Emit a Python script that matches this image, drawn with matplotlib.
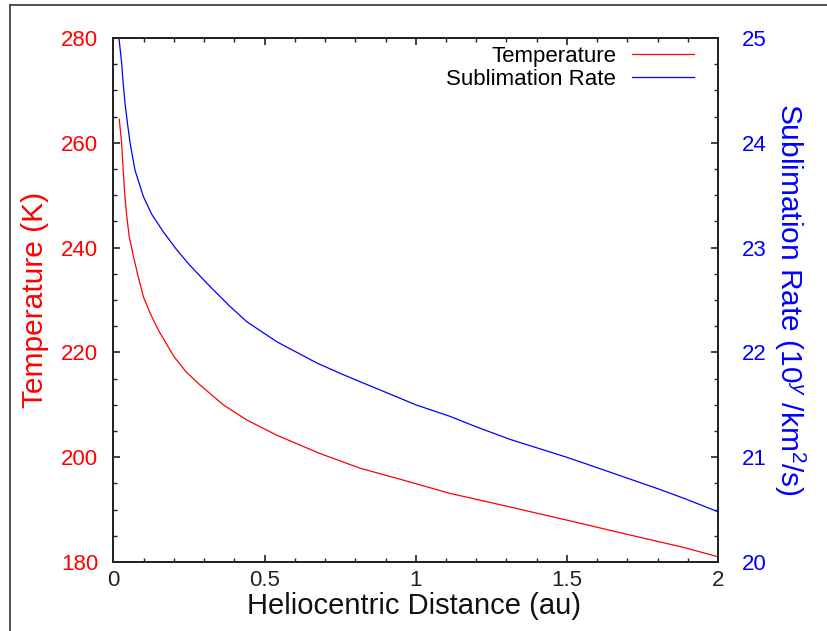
import matplotlib
matplotlib.use("Agg")
import matplotlib.pyplot as plt
from matplotlib.ticker import MultipleLocator
from matplotlib.lines import Line2D

plt.rcParams['font.family'] = ['Liberation Sans', 'DejaVu Sans']
plt.rcParams['mathtext.fontset'] = 'custom'
plt.rcParams['mathtext.rm'] = 'Liberation Sans'
plt.rcParams['mathtext.it'] = 'Liberation Sans:italic'

# Data
r_temp = [0.019, 0.027, 0.032, 0.038, 0.044, 0.052, 0.066, 0.082, 0.099, 0.121,
          0.148, 0.20, 0.24, 0.286, 0.363, 0.441, 0.540, 0.683, 0.816, 0.948,
          1.113, 1.312, 1.499, 1.720, 1.885, 2.0]
temperature = [264.5, 259.9, 254.8, 249.7, 245.9, 242.1, 238.3, 234.4, 230.6, 227.5,
               224.3, 219.2, 216.3, 213.8, 210.0, 207.1, 204.2, 200.7, 197.9, 195.8,
               193.1, 190.5, 188.0, 185.0, 182.8, 181.0]

r_subl = [0.018, 0.027, 0.032, 0.038, 0.046, 0.055, 0.071, 0.099, 0.126, 0.165,
          0.209, 0.253, 0.319, 0.385, 0.441, 0.540, 0.672, 0.75, 0.816, 0.90,
          1.0, 1.113, 1.20, 1.312, 1.40, 1.499, 1.60, 1.720, 1.80, 1.885, 2.0]
sublimation = [25.0, 24.76, 24.57, 24.38, 24.19, 23.995, 23.74, 23.486, 23.32, 23.15,
               22.98, 22.83, 22.63, 22.44, 22.293, 22.102, 21.90, 21.80, 21.72, 21.62,
               21.50, 21.39, 21.29, 21.17, 21.09, 21.00, 20.90, 20.78, 20.70, 20.61, 20.48]

fig = plt.figure(figsize=(8.28, 6.31), dpi=100)
ax = fig.add_axes([113.5/828, 1-562/631, (718-113.5)/828, (562-38)/631])
ax2 = ax.twinx()

ax.plot(r_temp, temperature, color='#ff0000', lw=0.9)
ax2.plot(r_subl, sublimation, color='#0000ff', lw=0.9)

ax.set_xlim(0, 2)
ax.set_ylim(180, 280)
ax2.set_ylim(20, 25)

ax.xaxis.set_major_locator(MultipleLocator(0.5))
ax.xaxis.set_minor_locator(MultipleLocator(0.1))
ax.yaxis.set_major_locator(MultipleLocator(20))
ax.yaxis.set_minor_locator(MultipleLocator(5))
ax2.yaxis.set_major_locator(MultipleLocator(1))
ax2.yaxis.set_minor_locator(MultipleLocator(0.25))
ax.set_xticks([0, 0.5, 1, 1.5, 2])
ax.set_xticklabels(['0', '0.5', '1', '1.5', '2'])

ax.tick_params(axis='x', which='both', direction='in', top=True, labelsize=16, pad=6, colors='#222222')
ax.tick_params(axis='x', which='major', length=5, width=1.2)
ax.tick_params(axis='x', which='minor', length=3, width=1.0)
ax.tick_params(axis='y', which='both', direction='in', labelsize=16, pad=11, labelcolor='#ff0000', color='#222222')
ax.tick_params(axis='y', which='major', length=5, width=1.2)
ax.tick_params(axis='y', which='minor', length=3, width=1.0)
ax2.tick_params(axis='y', which='both', direction='in', labelsize=16, pad=17, labelcolor='#0000ff', color='#222222')
ax2.tick_params(axis='y', which='major', length=5, width=1.2)
ax2.tick_params(axis='y', which='minor', length=3, width=1.0)

for a in (ax, ax2):
    for s in a.spines.values():
        s.set_color('#222222')
        s.set_linewidth(1.3)

ax.set_xlabel('Heliocentric Distance (au)', fontsize=21, color='#111111')
ax.xaxis.set_label_coords(0.497, -0.084)
ax.xaxis.label.set_va('center')
ax.set_ylabel('Temperature (K)', fontsize=21.5, color='#ff0000')
ax.yaxis.set_label_coords(-0.13, 0.5)
ax.yaxis.label.set_va('center')
ax2.set_ylabel('Sublimation Rate (10$^y$ /km$^2$/s)', fontsize=21.5, color='#0000ff', rotation=270)
ax2.yaxis.set_label_coords(1.119, 0.5)
ax2.yaxis.label.set_va('center')

handles = [Line2D([], [], color='#ff0000', lw=0.9), Line2D([], [], color='#0000ff', lw=0.9)]
leg = ax.legend(handles, ['Temperature', 'Sublimation Rate'], loc='upper right',
                bbox_to_anchor=(1 - 24/604.5, 1.0 - 8/524), frameon=False, markerfirst=False,
                fontsize=16, handlelength=2.8, handletextpad=0.7, labelspacing=0.08,
                borderpad=0.0, borderaxespad=0.0)

# outer frame of the original screenshot
fig.add_artist(Line2D([10/828, 10/828], [0, 1 - 5/631], transform=fig.transFigure, color='#444444', lw=1.3))
fig.add_artist(Line2D([10/828, 1], [1 - 5/631, 1 - 5/631], transform=fig.transFigure, color='#444444', lw=1.3))

fig.savefig('out.png', dpi=100)
